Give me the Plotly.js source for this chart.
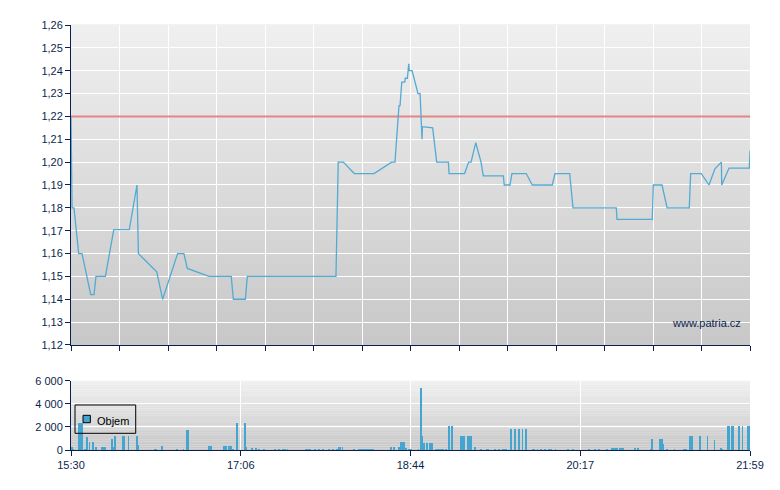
<!DOCTYPE html>
<html>
<head>
<meta charset="utf-8">
<script src="https://cdn.plot.ly/plotly-3.0.1.min.js"></script>
<style>
  html, body { margin: 0; padding: 0; background: #fff; }
  #chart { width: 780px; height: 490px; }
</style>
</head>
<body>
<div id="chart"></div>
<script>
// minutes since 15:30 (session runs to 21:59 = 389 min)
const SESSION_LEN = 389;
const timeLabels = ["15:30", "17:06", "18:44", "20:17", "21:59"];
const prevClose = 1.22;
const volName = "Objem";

const priceMin = [
  0, 0.6, 1.7, 4.4, 6.3, 9.3, 11.3, 13.2, 14.3, 19.7, 24.5, 33.4, 37.8, 38.6,
  49.1, 52.5, 61.1, 64.7, 66.6, 79.1, 91.8, 93, 99.9, 101, 151.8, 153.1, 156,
  162.3, 173.6, 183.7, 185.6, 187.9, 188.5, 189.5, 191.2, 191.5, 192.7, 193.5,
  193.8, 195.4, 198.8, 200, 201.1, 201.3, 207.2, 209.5, 216.2, 216.6, 225.5,
  227.8, 229.2, 231.9, 234.9, 236.2, 247.7, 248.2, 251.5, 252.6, 260.8, 264.3,
  275.7, 277.3, 285.7, 287.6, 312.4, 312.8, 333, 333.6, 338.6, 341.5, 354.2,
  355, 361.1, 365.5, 368.9, 372.6, 372.8, 377, 388.6, 389
];
const priceVal = [
  1.22, 1.18, 1.18, 1.16, 1.16, 1.15, 1.142, 1.142, 1.15, 1.15, 1.1705, 1.1705, 1.19, 1.16,
  1.152, 1.14, 1.16, 1.16, 1.1535, 1.15, 1.15, 1.14, 1.14, 1.15, 1.15, 1.20, 1.20,
  1.195, 1.195, 1.20, 1.20, 1.2247, 1.2247, 1.235, 1.235, 1.2367, 1.2367, 1.243,
  1.24, 1.24, 1.23, 1.23, 1.21, 1.2155, 1.215, 1.20, 1.20, 1.195, 1.195,
  1.20, 1.20, 1.2085, 1.20, 1.194, 1.194, 1.19, 1.19, 1.195, 1.195, 1.19,
  1.19, 1.195, 1.195, 1.18, 1.18, 1.175, 1.175, 1.19, 1.19, 1.18, 1.18,
  1.195, 1.195, 1.19, 1.1971, 1.20, 1.19, 1.1974, 1.1974, 1.205
];

const volMin = [
  0.6, 1.5, 4.5, 5.5, 6.5, 8.2, 9.1, 10.6, 12.4, 14.2, 17.5, 18.5, 19.5, 23.4, 24.2,
  25.3, 29.7, 30.7, 33, 37.6, 38.3, 48, 49, 52.3, 60.6, 64.4, 66.3, 67.2, 79.1, 80.1,
  87.8, 88.8, 90.5, 91.5, 93, 95, 99.6, 100.6, 103.5, 105.9, 107.6, 110.4, 117, 119.2,
  121.4, 122.4, 124.1, 134.8, 135.8, 136.8, 139.6, 142.2, 144.4, 148, 150.2, 152.4,
  153.3, 154.3, 155.5, 162, 165, 166, 167, 168, 169, 170, 171, 172, 173, 183.2, 185.2,
  187.7, 189, 190, 191, 192, 193.7, 194.7, 199.1, 200.4, 201.2, 202.1, 203.9, 205.7,
  206.7, 209, 210, 211, 212, 213, 214.9, 216.6, 218.3, 223.4, 224.4, 225.2, 227.5,
  228.5, 229.2, 231.4, 234.9, 238.2, 239.2, 242.9, 245.1, 247.4, 248.4, 249.2, 252,
  254.4, 256.5, 258.6, 260.7, 264.4, 265.4, 267.3, 269.3, 271.5, 273.8, 274.8, 277.5,
  284.9, 287.4, 296.9, 300.2, 302.5, 307.2, 309.9, 310.9, 311.9, 312.9, 314.6, 315.6,
  316.3, 323.1, 325, 332.1, 333, 337.5, 338.5, 339.5, 341.4, 345.8, 351.2, 352.2,
  354.6, 355.6, 360.5, 364.7, 368.7, 372.2, 373.2, 376.1, 377, 378.6, 379.6, 382.7,
  384.7, 387.8, 388.6
];
const volVal = [
  230, 120, 2350, 2350, 2350, 100, 1130, 725, 725, 260, 260, 260, 260, 960, 230,
  1220, 1220, 1220, 1220, 1220, 435, 87, 87, 350, 87, 87, 1740, 1740, 350, 350,
  350, 350, 350, 350, 87, 2350, 2350, 260, 175, 175, 87, 87, 87, 87,
  87, 87, 87, 87, 87, 87, 87, 87, 87, 87, 87, 87,
  260, 260, 260, 87, 87, 87, 87, 87, 87, 87, 87, 87, 87, 260, 260,
  260, 725, 725, 725, 175, 87, 87, 87, 5420, 1250, 640, 640, 640,
  640, 87, 87, 87, 87, 87, 87, 2090, 2090, 1220, 1220, 1220, 1220,
  1220, 1220, 260, 87, 87, 87, 87, 87, 87, 87, 87, 1830,
  1830, 1830, 1830, 1830, 87, 87, 87, 87, 87, 87, 87, 87,
  87, 87, 87, 87, 87, 87, 175, 175, 175, 175, 175, 175,
  175, 175, 175, 87, 960, 960, 960, 520, 87, 87, 87, 87,
  1220, 1220, 1220, 1220, 870, 175, 87, 2090, 2090, 2090, 2090, 2090,
  2090, 2090, 2090
];

const NAVY = "#0b1f4e";
const LINE = "#53aad4";
const BAR = "#45a5d1";
const FONT = "Liberation Sans, Arial, sans-serif";

// grey vertical gradient behind both panels
const gradient = (xr, yr) => {
  const n = 40, out = [];
  for (let i = 0; i < n; i++) {
    const t = (i + 0.5) / n;
    const c = Math.round(200 + (239 - 200) * t);
    out.push({
      type: "rect", layer: "below",
      xref: xr + " domain", yref: yr + " domain",
      x0: 0, x1: 1, y0: i / n, y1: (i + 1) / n + 0.002,
      fillcolor: `rgb(${c},${c},${c})`, line: { width: 0 }
    });
  }
  return out;
};

// compact boxed legend in the volume panel (plotly's own is too wide)
const legendBox = [
  {
    type: "rect", layer: "above", xref: "paper", yref: "paper",
    x0: 0.0059, x1: 0.0953, y0: 0.0393, y1: 0.1059,
    line: { color: "#000", width: 1 }, fillcolor: "rgba(0,0,0,0)"
  },
  {
    type: "rect", layer: "above", xref: "paper", yref: "paper",
    x0: 0.0177, x1: 0.0285, y0: 0.0642, y1: 0.0816,
    line: { color: "#000", width: 1 }, fillcolor: BAR
  }
];

const tickStep = SESSION_LEN / (timeLabels.length - 1);
const bottomTicks = timeLabels.map((_, i) => i * tickStep);

const axisBase = {
  showline: true, linecolor: NAVY, linewidth: 1,
  ticks: "outside", ticklen: 5, tickcolor: NAVY,
  gridcolor: "#ffffff", gridwidth: 1, zeroline: false,
  tickfont: { family: FONT, size: 11, color: NAVY }
};

const traces = [
  {
    x: [0, SESSION_LEN], y: [prevClose, prevClose],
    type: "scatter", mode: "lines", hoverinfo: "skip",
    line: { color: "#e38686", width: 2 }, xaxis: "x", yaxis: "y"
  },
  {
    x: priceMin, y: priceVal, type: "scatter", mode: "lines",
    line: { color: LINE, width: 1.3 }, xaxis: "x", yaxis: "y"
  },
  {
    x: volMin, y: volVal, name: volName, type: "bar", width: 1,
    marker: { color: BAR, line: { width: 0 } }, xaxis: "x2", yaxis: "y2"
  }
];

const layout = {
  width: 780, height: 490,
  margin: { l: 71, r: 30, t: 25, b: 40 },
  paper_bgcolor: "#ffffff",
  plot_bgcolor: "rgba(0,0,0,0)",
  separators: ", ",
  font: { family: FONT, size: 11, color: NAVY },
  showlegend: false,
  xaxis: {
    ...axisBase, anchor: "y", range: [0, SESSION_LEN],
    tickmode: "linear", tick0: 0, dtick: SESSION_LEN / 14, showticklabels: false
  },
  yaxis: {
    ...axisBase, domain: [0.2471, 1], range: [1.12, 1.26],
    tickmode: "linear", tick0: 1.12, dtick: 0.01, tickformat: ".2f"
  },
  xaxis2: {
    ...axisBase, anchor: "y2", range: [0, SESSION_LEN],
    tickmode: "array", tickvals: bottomTicks, ticktext: timeLabels
  },
  yaxis2: {
    ...axisBase, domain: [0, 0.1624], range: [0, 6000],
    tickmode: "linear", tick0: 0, dtick: 2000, tickformat: ",d"
  },
  shapes: [...gradient("x", "y"), ...gradient("x2", "y2"), ...legendBox],
  annotations: [
    {
      text: "www.patria.cz", xref: "paper", yref: "paper",
      x: 0.989, y: 0.2995, xanchor: "right", yanchor: "middle",
      showarrow: false, font: { family: FONT, size: 11, color: NAVY }
    },
    {
      text: volName, xref: "paper", yref: "paper",
      x: 0.0353, y: 0.0689, xanchor: "left", yanchor: "middle",
      showarrow: false, font: { family: FONT, size: 11, color: "#000" }
    }
  ],
  bargap: 0
};

Plotly.newPlot("chart", traces, layout, { displayModeBar: false, staticPlot: true });
</script>
</body>
</html>
